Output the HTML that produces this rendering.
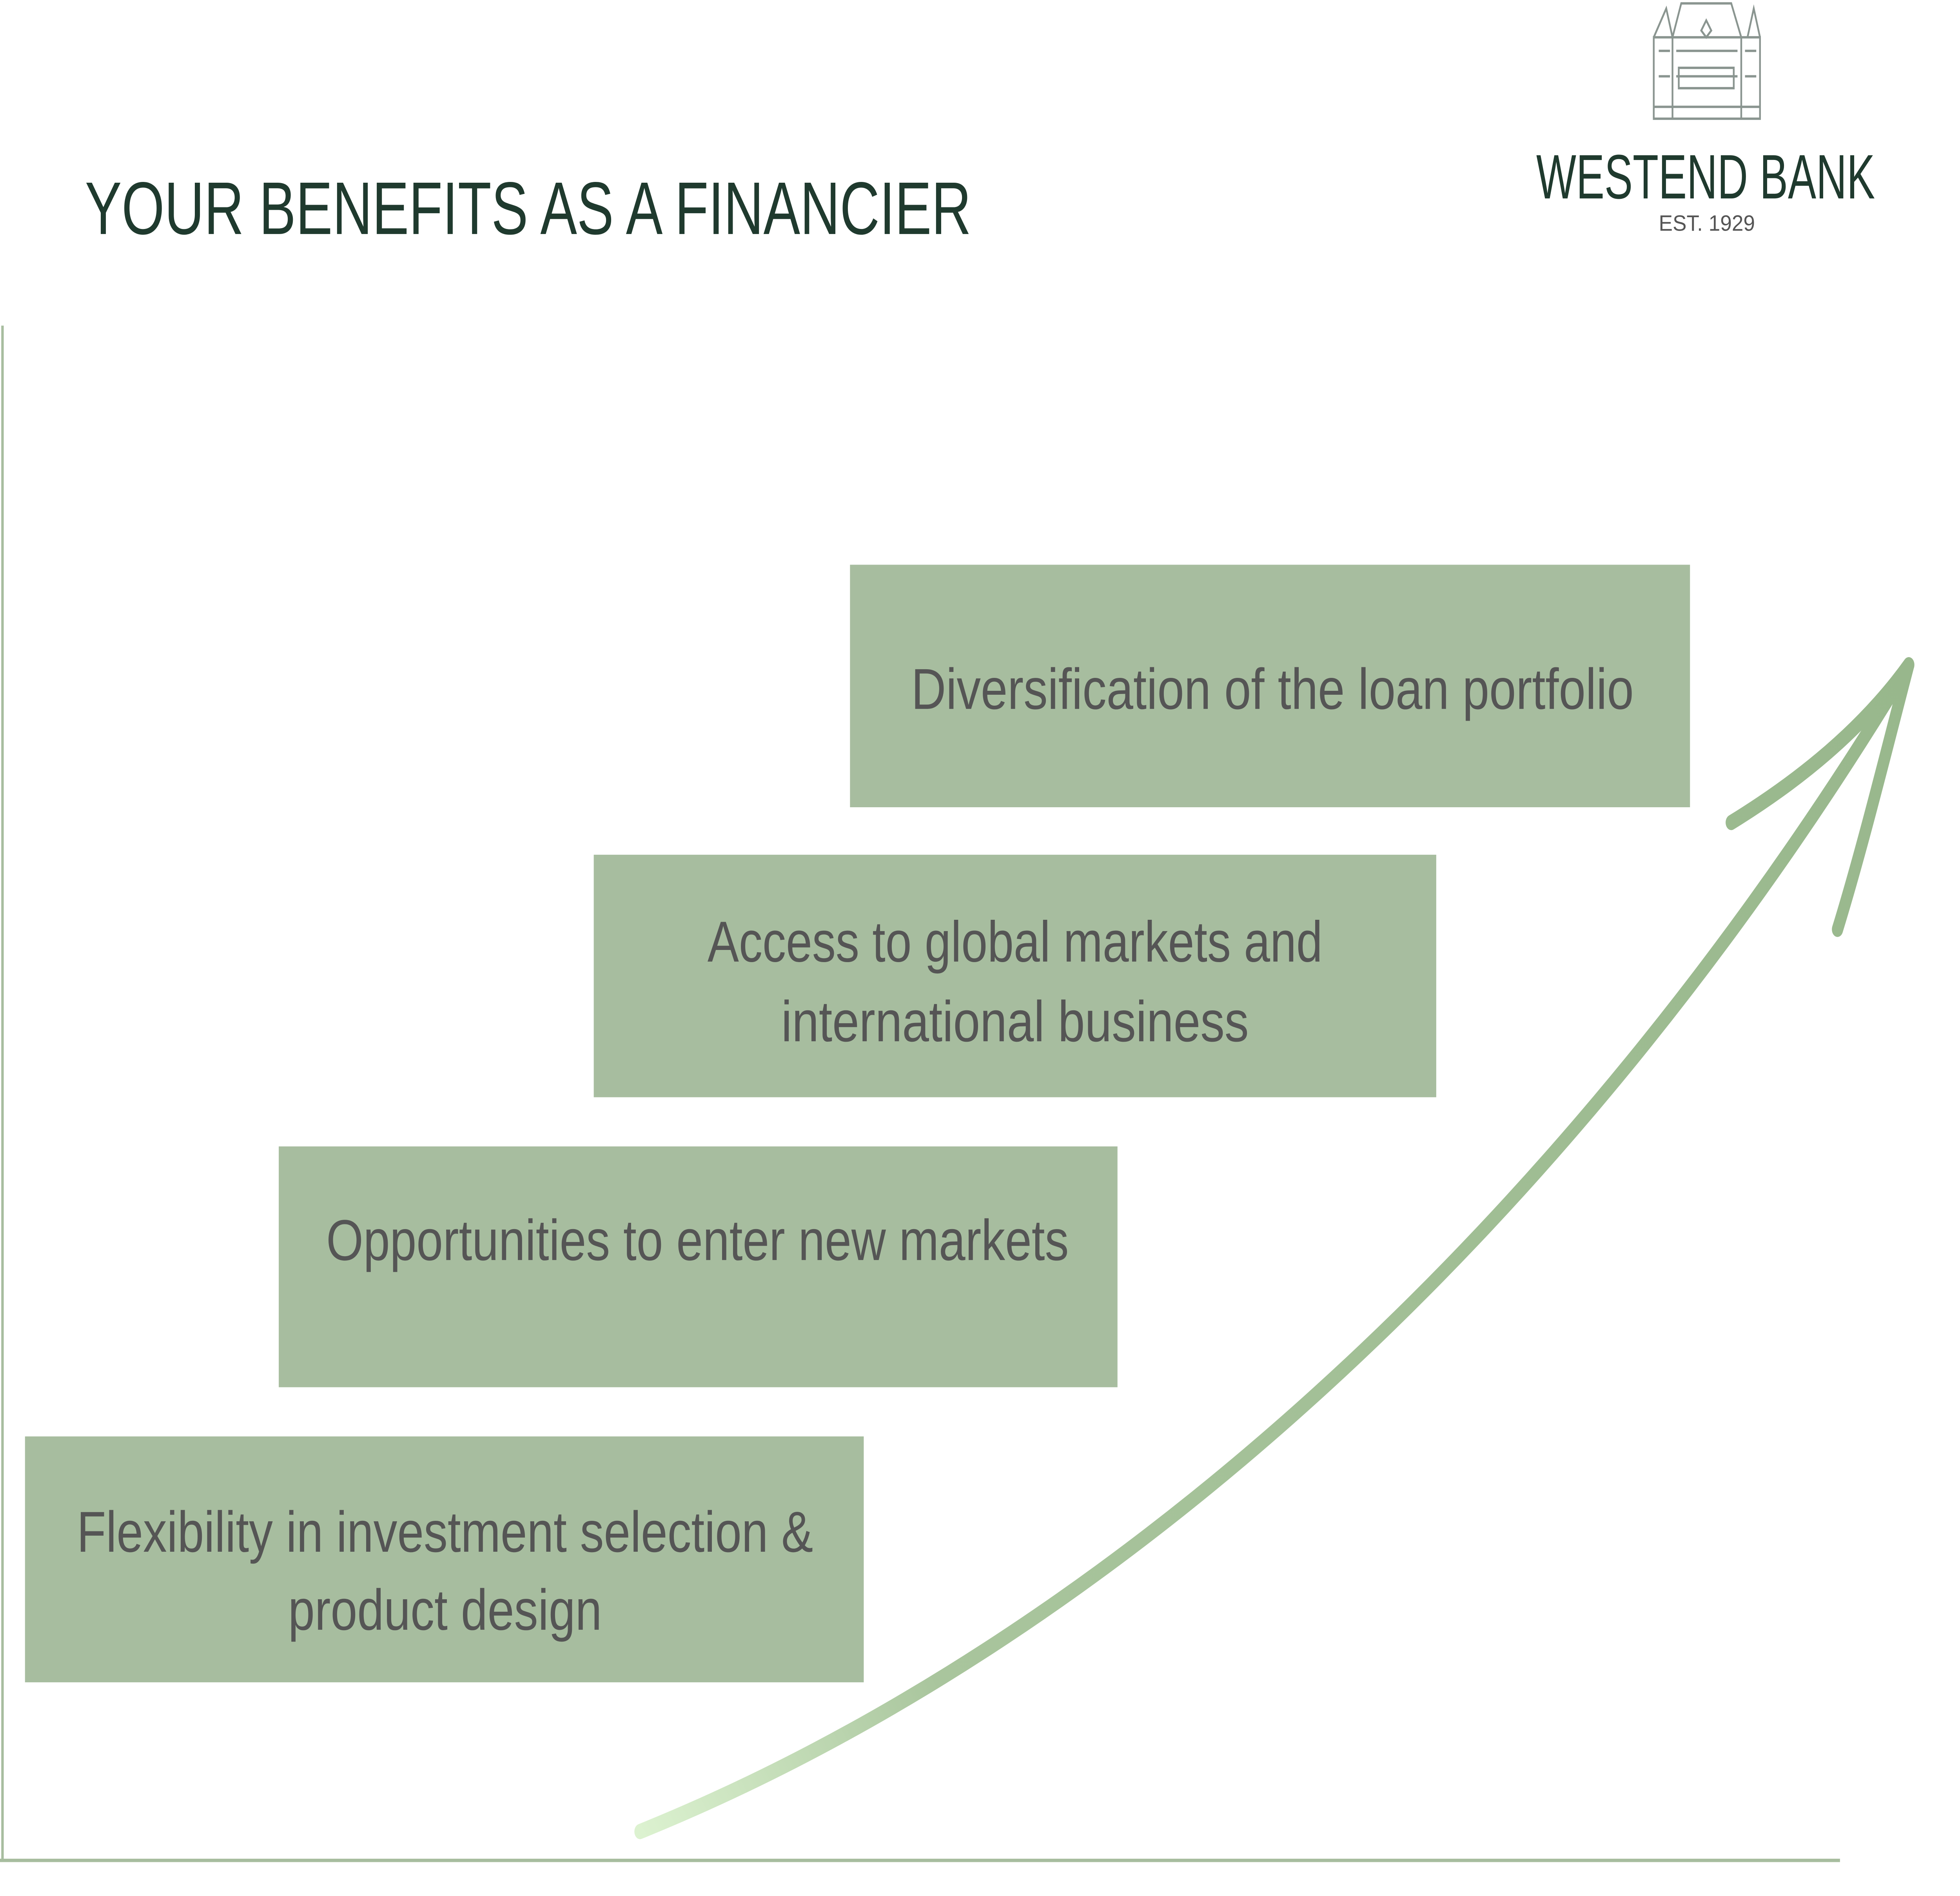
<!DOCTYPE html>
<html><head><meta charset="utf-8"><style>
html,body{margin:0;padding:0;background:#fff;width:100%;height:100%;overflow:hidden;}
svg{display:block;position:fixed;left:0;top:0;width:100vw;height:100vh;}
</style></head><body>
<svg viewBox="0 0 1568 1118" preserveAspectRatio="none" xmlns="http://www.w3.org/2000/svg">
<defs>
<linearGradient id="ag" x1="512" y1="1080" x2="1530" y2="390" gradientUnits="userSpaceOnUse">
<stop offset="0" stop-color="#dcf2d0"/>
<stop offset="0.2" stop-color="#a9c59d"/>
<stop offset="1" stop-color="#98b78c"/>
</linearGradient>
</defs>
<rect width="1568" height="1118" fill="#fff"/>
<text x="68" y="138" font-family="Liberation Sans, sans-serif" font-size="44" fill="#1f3a2e" textLength="709" lengthAdjust="spacingAndGlyphs">YOUR BENEFITS AS A FINANCIER</text>
<g fill="none" stroke="#8a9590" stroke-width="1.4">
<rect x="1323" y="22" width="85" height="48"/>
<path d="M1323 22 L1333 5 L1338 22 M1398 22 L1403 5 L1408 22 M1338 22 L1345 2 L1385 2 L1393 22"/>
<path d="M1338 22 V70 M1393 22 V70 M1323 63 H1408"/>
<path d="M1327 30 H1336 M1341 30 H1390 M1396 30 H1405 M1327 45 H1336 M1341 45 H1390 M1396 45 H1405"/>
<rect x="1343" y="40" width="44" height="12"/>
<path d="M1365 12 l-4 6 l4 4 l4 -4 z"/>
</g>
<text x="1229" y="117" font-family="Liberation Sans, sans-serif" font-size="37" fill="#1f3a2e" textLength="271" lengthAdjust="spacingAndGlyphs">WESTEND BANK</text>
<text x="1327" y="136" font-family="Liberation Sans, sans-serif" font-size="13" fill="#555" textLength="77" lengthAdjust="spacingAndGlyphs">EST. 1929</text>
<line x1="2" y1="192" x2="2" y2="1097" stroke="#a7bd9f" stroke-width="2"/>
<line x1="0" y1="1097" x2="1472" y2="1097" stroke="#a7bd9f" stroke-width="2"/>
<g fill="none" stroke="url(#ag)" stroke-width="9" stroke-linecap="round">
<path d="M512 1080 C880 970 1250 730 1525 395"/>
<path d="M1385 485 C1440 460 1490 430 1527 392"/>
<path d="M1470 548 C1490 500 1510 440 1527 392"/>
</g>
<g fill="#a7bd9f">
<rect x="680" y="333" width="672" height="143"/>
<rect x="475" y="504" width="674" height="143"/>
<rect x="223" y="676" width="671" height="142"/>
<rect x="20" y="847" width="671" height="145"/>
</g>
<g font-family="Liberation Sans, sans-serif" font-size="34" fill="#555" text-anchor="middle">
<text x="1018" y="418" textLength="578" lengthAdjust="spacingAndGlyphs">Diversification of the loan portfolio</text>
<text x="812" y="567" textLength="492" lengthAdjust="spacingAndGlyphs">Access to global markets and</text>
<text x="812" y="614" textLength="374" lengthAdjust="spacingAndGlyphs">international business</text>
<text x="558" y="743" textLength="594" lengthAdjust="spacingAndGlyphs">Opportunities to enter new markets</text>
<text x="356" y="915" textLength="589" lengthAdjust="spacingAndGlyphs">Flexibility in investment selection &amp;</text>
<text x="356" y="961" textLength="251" lengthAdjust="spacingAndGlyphs">product design</text>
</g>
</svg>
</body></html>
